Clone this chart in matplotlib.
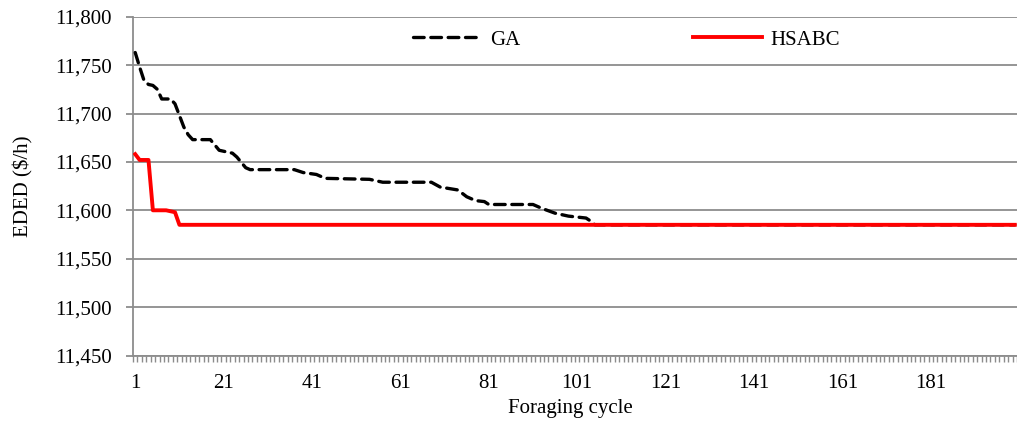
import matplotlib
matplotlib.use("Agg")
import matplotlib.pyplot as plt
from matplotlib.ticker import FixedLocator, FuncFormatter

# ---- data ----
ga_cycle = [1, 2, 3, 4, 5, 6, 7, 9, 10, 11, 12, 13, 14, 18, 20, 22, 23, 24, 26, 27,
            37, 39, 42, 44, 54, 57, 68, 70, 74, 76, 78, 80, 81, 91, 93, 96, 99, 103,
            104, 105, 200]
ga_cost = [11763, 11748, 11734, 11730, 11729, 11725, 11715, 11715, 11710, 11698,
           11686, 11678, 11673, 11673, 11662, 11660, 11659, 11655, 11644, 11642,
           11642, 11639, 11637, 11633, 11632, 11629, 11629, 11624, 11621, 11614,
           11610, 11609, 11606, 11606, 11602, 11597, 11594, 11592, 11589, 11585,
           11585]

hsabc_cycle = [1, 2, 3, 4, 5, 6, 7, 8, 9, 10, 11, 200]
hsabc_cost = [11658, 11652, 11652, 11652, 11600, 11600, 11600, 11600, 11599,
              11598, 11585, 11585]

n_cycles = 200
x_labels = [1, 21, 41, 61, 81, 101, 121, 141, 161, 181]
y_ticks = [11450, 11500, 11550, 11600, 11650, 11700, 11750, 11800]

# ---- style ----
plt.rcParams['font.family'] = ['Liberation Serif', 'DejaVu Serif']
FS = 15
GRID = '#8c8c8c'

fig = plt.figure(figsize=(10.17, 4.23), dpi=100)
ax = fig.add_axes([133 / 1017, 1 - 355.5 / 423, 1 - 133 / 1017, (355.5 - 16.7) / 423])

ga_line, = ax.plot(ga_cycle, ga_cost, color='black', lw=2.4, linestyle=(0, (3.2, 2.0)),
                   dash_capstyle='round', solid_joinstyle='round', zorder=3, label='GA')
hs_line, = ax.plot(hsabc_cycle, hsabc_cost, color='#ff0000', lw=2.8,
                   solid_joinstyle='round', zorder=4, label='HSABC')

ax.set_xlim(0.5, n_cycles + 0.5)
ax.set_ylim(y_ticks[0], y_ticks[-1])

ax.set_yticks(y_ticks)
ax.yaxis.set_major_formatter(FuncFormatter(lambda v, p: f"{int(v):,}"))
ax.grid(axis='y', color=GRID, lw=1.3, zorder=1)
ax.set_axisbelow(True)

ax.xaxis.set_major_locator(FixedLocator(x_labels))
ax.xaxis.set_minor_locator(FixedLocator([i + 0.5 for i in range(0, n_cycles + 1)]))
ax.tick_params(axis='x', which='major', length=0, pad=13, labelsize=FS, colors='black')
ax.tick_params(axis='x', which='minor', length=4, width=1.0, color=GRID, direction='out')
ax.tick_params(axis='y', which='major', length=5, width=1.3, color=GRID, pad=10,
               labelsize=FS, labelcolor='black')

for s in ['top', 'right']:
    ax.spines[s].set_visible(False)
for s in ['left', 'bottom']:
    ax.spines[s].set_color(GRID)
    ax.spines[s].set_linewidth(1.3)

ax.set_xlabel('Foraging cycle', fontsize=FS)
ax.xaxis.set_label_coords((570 - 133) / 884, -(399 - 355.5) / 338.8)
ax.set_ylabel('EDED ($/h)', fontsize=FS)
ax.yaxis.set_label_coords(-0.113, 0.5)

fig.legend(handles=[ga_line, hs_line], loc='center', bbox_to_anchor=(626 / 1017, 1 - 40 / 423),
           ncol=2, frameon=False, fontsize=FS, handlelength=3.3, handletextpad=0.4,
           columnspacing=8.3, borderpad=0)

fig.savefig('out.png', dpi=100)
